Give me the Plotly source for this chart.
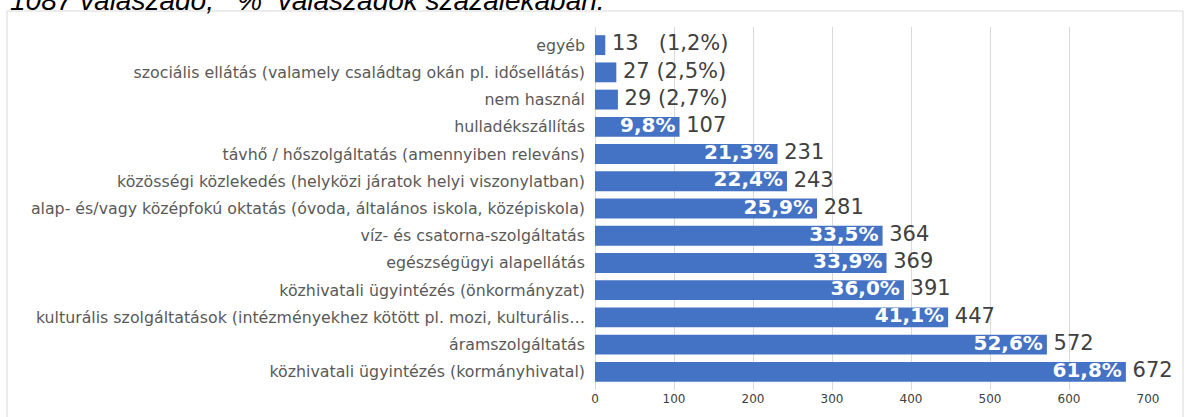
import plotly.graph_objects as go

categories = [
    "egyéb",
    "szociális ellátás (valamely családtag okán pl. idősellátás)",
    "nem használ",
    "hulladékszállítás",
    "távhő / hőszolgáltatás (amennyiben releváns)",
    "közösségi közlekedés (helyközi járatok helyi viszonylatban)",
    "alap- és/vagy középfokú oktatás (óvoda, általános iskola, középiskola)",
    "víz- és csatorna-szolgáltatás",
    "egészségügyi alapellátás",
    "közhivatali ügyintézés (önkormányzat)",
    "kulturális szolgáltatások (intézményekhez kötött pl. mozi, kulturális…",
    "áramszolgáltatás",
    "közhivatali ügyintézés (kormányhivatal)",
]
counts = [13, 27, 29, 107, 231, 243, 281, 364, 369, 391, 447, 572, 672]
percents = [1.2, 2.5, 2.7, 9.8, 21.3, 22.4, 25.9, 33.5, 33.9, 36.0, 41.1, 52.6, 61.8]
x_ticks = [0, 100, 200, 300, 400, 500, 600, 700]
title_text = "1087 válaszadó,\u00a0\u00a0\u00a0%\u00a0\u00a0válaszadók százalékában."

NB = "\u00a0"
THIN = "\u2009"

def fmt(p):
    return f"{p:.1f}".replace(".", ",") + "%"

inside_text = []
outside_text = []
for c, p in zip(counts, percents):
    if p < 5:
        inside_text.append("")
        gap = NB * 3 if c < 20 else NB
        outside_text.append(f"{NB}{c}{gap}({fmt(p)})")
    else:
        inside_text.append(fmt(p) + THIN)
        outside_text.append(f"{NB}{c}")

fig = go.Figure()
fig.add_trace(go.Bar(
    y=categories, x=counts, orientation="h",
    marker=dict(color="#4472C4", line=dict(width=0)),
    hoverinfo="skip",
))
fig.add_trace(go.Scatter(
    y=categories, x=counts, mode="text", text=inside_text,
    textposition="middle left",
    textfont=dict(family="DejaVu Sans", size=20, color="white", weight="bold"),
    cliponaxis=False, hoverinfo="skip",
))
fig.add_trace(go.Scatter(
    y=categories, x=counts, mode="text", text=outside_text,
    textposition="middle right",
    textfont=dict(family="DejaVu Sans", size=21, color="#404040"),
    cliponaxis=False, hoverinfo="skip",
))

W, H = 1184, 417
L, R, T, B = 595, 36, 27, 27
pw, ph = W - L - R, H - T - B

def px(xpix):
    return (xpix - L) / pw

def py(ypix):
    return 1 - (ypix - T) / ph

fig.update_layout(
    width=W, height=H,
    margin=dict(l=L, r=R, t=T, b=B, pad=0),
    paper_bgcolor="white", plot_bgcolor="white",
    showlegend=False, bargap=0.27,
    xaxis=dict(
        range=[0, 700], tickvals=x_ticks, ticktext=[str(v) for v in x_ticks],
        showgrid=True, gridcolor="#d9d9d9", gridwidth=1,
        zeroline=True, zerolinecolor="#d9d9d9", zerolinewidth=1,
        showline=False, ticks="",
        tickfont=dict(family="DejaVu Sans", size=12, color="#404040"),
        fixedrange=True,
    ),
    yaxis=dict(
        autorange="reversed", showgrid=False, zeroline=False, showline=False,
        ticks="", ticklabelstandoff=9,
        tickfont=dict(family="DejaVu Sans", size=15.8, color="#595959"),
        fixedrange=True,
    ),
    shapes=[dict(
        type="rect", xref="paper", yref="paper",
        x0=px(7), x1=px(1183), y0=py(430), y1=py(11),
        line=dict(color="#d9d9d9", width=1), fillcolor="rgba(0,0,0,0)",
        layer="below",
    )],
    annotations=[dict(
        text=f"<i>{title_text}</i>", xref="paper", yref="paper",
        x=px(8), y=py(0.5), xanchor="left", yanchor="middle",
        showarrow=False,
        font=dict(family="Liberation Sans", size=28, color="black"),
    )],
)

fig.write_html(
    "out.html",
    config={"displayModeBar": False, "staticPlot": True},
    post_script="document.body.style.margin='0';document.body.style.overflow='hidden';",
)
